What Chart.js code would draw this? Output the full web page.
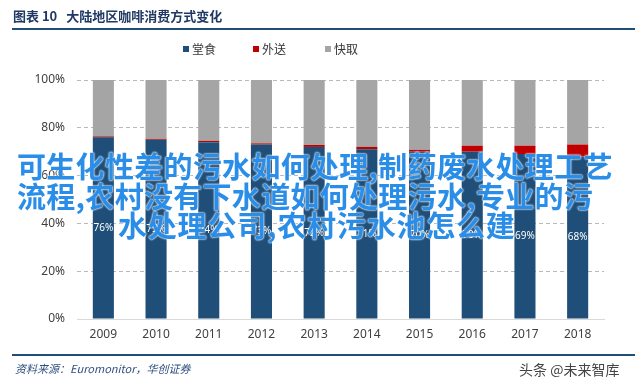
<!DOCTYPE html>
<html>
<head>
<meta charset="utf-8">
<script src="https://cdn.jsdelivr.net/npm/chart.js@4/dist/chart.umd.min.js"></script>
<style>
  body { margin: 0; background: #fff; }
  #wrap { position: relative; width: 640px; height: 385px; overflow: hidden; font-family: "Noto Sans CJK SC", "Noto Sans", sans-serif; }
  #chart { position: absolute; left: 0; top: 0; }
  .title { position: absolute; left: 13px; top: 6px; font-size: 13px; font-weight: bold; color: #1f3864; }
  .rule { position: absolute; left: 12px; width: 623px; height: 2px; background: #1f4e79; }
  .legend { position: absolute; top: 40px; font-size: 12px; color: #333; }
  .legend span.box { display: inline-block; width: 6px; height: 6px; margin-right: 3px; vertical-align: 2px; }
  .source { position: absolute; left: 15px; top: 360px; font-size: 11px; font-style: italic; color: #2f4f7f; font-family: "Noto Sans CJK SC", serif; }
  .mark { position: absolute; left: 519px; top: 359px; font-size: 14px; color: #444; }
  .overlay { position: absolute; white-space: nowrap; font-size: 29px; font-weight: bold; color: #2a8ee8; line-height: 29.5px;
    text-shadow: 0 0 2px #fff, 0 0 2px #fff; letter-spacing: 0.3px; }
</style>
</head>
<body>
<div id="wrap">
  <canvas id="chart" width="640" height="385"></canvas>
  <div class="title">图表 10&nbsp;&nbsp;&nbsp;大陆地区咖啡消费方式变化</div>
  <div class="rule" style="top:28px"></div>
  <div class="legend" style="left:183px"><span class="box" style="background:#1f4e79"></span>堂食</div>
  <div class="legend" style="left:253px"><span class="box" style="background:#c00000"></span>外送</div>
  <div class="legend" style="left:325px"><span class="box" style="background:#a5a5a5"></span>快取</div>
  <div class="rule" style="top:354px"></div>
  <div class="source">资料来源：Euromonitor，华创证券</div>
  <div class="mark">头条 @未来智库</div>
  <div class="overlay" style="left:17px; top:151px">可生化性差的污水如何处理,制药废水处理工艺</div>
  <div class="overlay" style="left:17px; top:180.5px">流程,农村没有下水道如何处理污水,专业的污</div>
  <div class="overlay" style="left:118px; top:210px; letter-spacing:0.8px">水处理公司,农村污水池怎么建</div>
</div>
<script>
const years = ["2009", "2010", "2011", "2012", "2013", "2014", "2015", "2016", "2017", "2018"];
const dineIn = [76, 75, 74, 73, 72, 71, 70, 70, 69, 68];
const delivery = [0.4, 0.4, 0.5, 0.5, 0.8, 1.0, 0.8, 2.5, 3.5, 5.0];
const takeaway = [23.6, 24.6, 25.5, 26.5, 27.2, 28.0, 29.2, 27.5, 27.5, 27.0];

// white % labels centred in the dine-in segment
const centreLabels = {
    id: "centreLabels",
    afterDatasetsDraw(chart) {
        const ctx = chart.ctx;
        const meta = chart.getDatasetMeta(0);
        ctx.save();
        ctx.fillStyle = "#ffffff";
        ctx.font = "10px 'Noto Sans', sans-serif";
        ctx.textAlign = "center";
        ctx.textBaseline = "middle";
        meta.data.forEach((bar, i) => {
            const p = bar.getProps(["x", "y", "base"], true);
            ctx.fillText(dineIn[i] + "%", p.x, (p.y + p.base) / 2);
        });
        ctx.restore();
    }
};

new Chart(document.getElementById("chart"), {
    type: "bar",
    data: {
        labels: years,
        datasets: [
            { label: "堂食", data: dineIn, backgroundColor: "#1f4e79" },
            { label: "外送", data: delivery, backgroundColor: "#c00000" },
            { label: "快取", data: takeaway, backgroundColor: "#a5a5a5" },
        ],
    },
    options: {
        responsive: false,
        animation: false,
        layout: { padding: { left: 0, right: 36, top: 80, bottom: 36 } },
        datasets: { bar: { barPercentage: 0.4, categoryPercentage: 1 } },
        plugins: { legend: { display: false }, tooltip: { enabled: false } },
        scales: {
            x: {
                stacked: true,
                grid: { display: false, drawTicks: false },
                border: { color: "#d9d9d9" },
                ticks: { color: "#404040", font: { size: 12, family: "'Noto Sans', sans-serif" }, padding: 8 },
                afterFit(scale) { scale.height = 30; },
            },
            y: {
                stacked: true,
                min: 0,
                max: 100,
                grid: {
                    drawTicks: false,
                    color: (c) => c.tick && c.tick.value === 0 ? "rgba(0,0,0,0)" : "#b8b8b8",
                },
                border: { display: false, dash: [4, 3] },
                ticks: {
                    stepSize: 20,
                    color: "#404040",
                    font: { size: 12, family: "'Noto Sans', sans-serif" },
                    padding: 12,
                    callback: (v) => v + "%",
                },
                afterFit(scale) { scale.width = 77; },
            },
        },
    },
    plugins: [centreLabels],
});
</script>
</body>
</html>
